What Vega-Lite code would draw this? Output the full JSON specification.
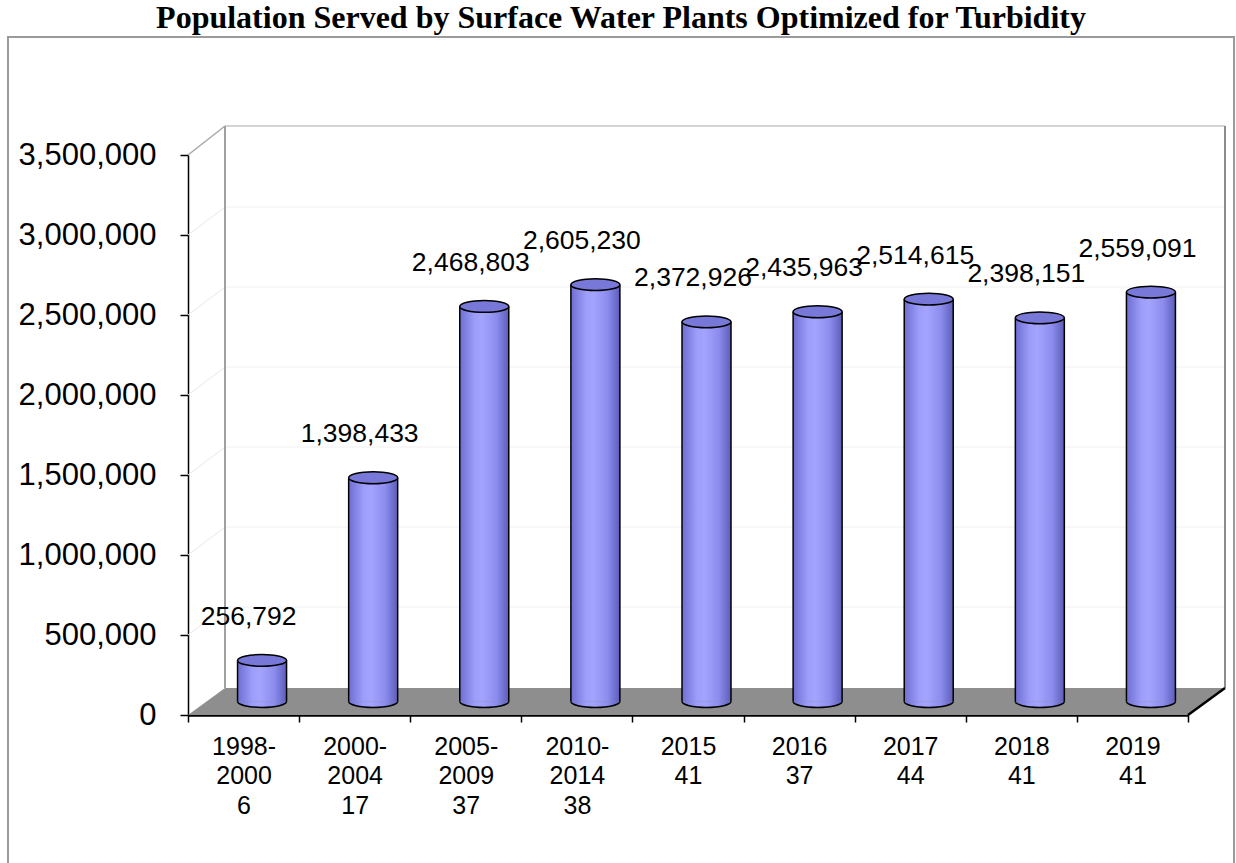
{
  "$schema": "https://vega.github.io/schema/vega-lite/v6.json",
  "autosize": {"type": "none"},
  "padding": {"left": 8, "top": 37, "right": 2, "bottom": 0},
  "width": 1226,
  "height": 830,
  "background": "white",
  "config": {
    "view": {"stroke": "#9a9a9a", "strokeWidth": 2},
    "axis": {"grid": false},
    "axisY": {"titleOpacity": 0}
  },
  "title": {
    "text": "Population Served by Surface Water Plants Optimized for Turbidity",
    "font": "Liberation Serif",
    "fontSize": 32,
    "fontWeight": "bold",
    "color": "black",
    "anchor": "middle",
    "frame": "group",
    "baseline": "alphabetic",
    "offset": -23
  },
  "datasets": {
    "plants": [
      {"label": "1998-|2000|6", "period": "1998-2000", "plants": 6, "population": 256792},
      {"label": "2000-|2004|17", "period": "2000-2004", "plants": 17, "population": 1398433},
      {"label": "2005-|2009|37", "period": "2005-2009", "plants": 37, "population": 2468803},
      {"label": "2010-|2014|38", "period": "2010-2014", "plants": 38, "population": 2605230},
      {"label": "2015|41", "period": "2015", "plants": 41, "population": 2372926},
      {"label": "2016|37", "period": "2016", "plants": 37, "population": 2435963},
      {"label": "2017|44", "period": "2017", "plants": 44, "population": 2514615},
      {"label": "2018|41", "period": "2018", "plants": 41, "population": 2398151},
      {"label": "2019|41", "period": "2019", "plants": 41, "population": 2559091}
    ],
    "grid": [
      {"v": 500000}, {"v": 1000000}, {"v": 1500000}, {"v": 2000000}, {"v": 2500000}, {"v": 3000000}
    ]
  },
  "resolve": {"scale": {"x": "independent"}},
  "layer": [
    {
      "layer": [
        {
          "data": {"name": "grid"},
          "mark": {"type": "rule", "color": "#f0f0f0", "strokeWidth": 1, "xOffset": 37, "x2Offset": 37, "yOffset": -28},
          "encoding": {
            "x": {"datum": 0, "type": "quantitative", "scale": {"domain": [0, 9], "range": [180, 1180], "nice": false, "zero": false}, "axis": null},
            "x2": {"datum": 9},
            "y": {"field": "v", "type": "quantitative", "scale": {"domain": [0, 3500000], "range": [678, 118], "nice": false}}
          }
        },
        {
          "data": {"name": "grid"},
          "mark": {"type": "rule", "color": "#e8e8e8", "strokeWidth": 1, "x2Offset": 37, "y2Offset": -28},
          "encoding": {
            "x": {"datum": 0, "type": "quantitative", "axis": null},
            "x2": {"datum": 0},
            "y": {"field": "v", "type": "quantitative"},
            "y2": {"field": "v"}
          }
        },
        {
          "data": {"values": [{}]},
          "mark": {"type": "rule", "color": "#a8a8a8", "strokeWidth": 1.5, "x2Offset": 37, "y2Offset": -29},
          "encoding": {
            "x": {"datum": 0, "type": "quantitative", "axis": null},
            "x2": {"datum": 0},
            "y": {"datum": 3500000, "type": "quantitative"},
            "y2": {"datum": 3500000}
          }
        },
        {
          "data": {"values": [{}]},
          "mark": {"type": "rule", "color": "#c4c4c4", "strokeWidth": 1.5, "xOffset": 37, "x2Offset": 37, "yOffset": -29},
          "encoding": {
            "x": {"datum": 0, "type": "quantitative", "axis": null},
            "x2": {"datum": 9},
            "y": {"datum": 3500000, "type": "quantitative"}
          }
        },
        {
          "data": {"values": [{}]},
          "mark": {"type": "rule", "color": "#a0a0a0", "strokeWidth": 2, "xOffset": 37, "yOffset": -27, "y2Offset": -29},
          "encoding": {
            "x": {"datum": 0, "type": "quantitative", "axis": null},
            "y": {"datum": 0, "type": "quantitative"},
            "y2": {"datum": 3500000}
          }
        },
        {
          "data": {"values": [{}]},
          "mark": {"type": "rule", "color": "#8c8c8c", "strokeWidth": 2, "xOffset": 37, "yOffset": -27, "y2Offset": -29},
          "encoding": {
            "x": {"datum": 9, "type": "quantitative", "axis": null},
            "y": {"datum": 0, "type": "quantitative"},
            "y2": {"datum": 3500000}
          }
        },
        {
          "data": {"values": [{}]},
          "mark": {
            "type": "point",
            "shape": "M-1,0.026L0.9286,0.026L1,-0.026L-0.9286,-0.026Z",
            "size": 1075369,
            "filled": true,
            "fill": "#8e8e8e",
            "fillOpacity": 1,
            "strokeWidth": 0,
            "opacity": 1,
            "xOffset": 18.5,
            "yOffset": -13.5
          },
          "encoding": {
            "x": {"datum": 4.5, "type": "quantitative", "axis": null},
            "y": {"datum": 0, "type": "quantitative"}
          }
        },
        {
          "data": {"values": [{}]},
          "mark": {"type": "rule", "color": "black", "strokeWidth": 2.5, "x2Offset": 37, "y2Offset": -27},
          "encoding": {
            "x": {"datum": 9, "type": "quantitative", "axis": null},
            "x2": {"datum": 9},
            "y": {"datum": 0, "type": "quantitative"},
            "y2": {"datum": 0}
          }
        }
      ]
    },
    {
      "data": {"name": "plants"},
      "encoding": {
        "x": {
          "field": "label",
          "type": "nominal",
          "sort": null,
          "scale": {"type": "band", "range": [180, 1180], "paddingInner": 0, "paddingOuter": 0},
          "axis": {
            "title": null,
            "labelExpr": "isValid(datum.value) ? split(datum.value, '|') : ''",
            "offset": -152,
            "tickBand": "extent",
            "domainColor": "black",
            "domainWidth": 2.5,
            "tickColor": "black",
            "tickWidth": 1.5,
            "tickSize": 7,
            "labelFont": "Liberation Sans",
            "labelFontSize": 25,
            "labelLineHeight": 29.5,
            "labelPadding": 12,
            "labelAngle": 0,
            "labelColor": "black",
            "labelOverlap": false,
            "grid": false
          }
        }
      },
      "layer": [
        {
          "mark": {
            "type": "bar",
            "width": 49,
            "xOffset": 18.5,
            "yOffset": -13.5,
            "y2Offset": -13.5,
            "strokeWidth": 0,
            "fill": {
              "gradient": "linear", "x1": 0, "y1": 0, "x2": 1, "y2": 0,
              "stops": [
                {"offset": 0, "color": "#6e6ed2"},
                {"offset": 0.3, "color": "#9c9cfa"},
                {"offset": 0.45, "color": "#a4a4ff"},
                {"offset": 0.75, "color": "#8c8cee"},
                {"offset": 1, "color": "#5c5cb8"}
              ]
            }
          },
          "encoding": {
            "y": {
              "field": "population",
              "type": "quantitative",
              "scale": {"domain": [0, 3500000], "range": [678, 118], "nice": false},
              "axis": {
                "title": null,
                "values": [0, 500000, 1000000, 1500000, 2000000, 2500000, 3000000, 3500000],
                "format": ",d",
                "offset": -180,
                "domainColor": "black",
                "domainWidth": 1.5,
                "tickColor": "black",
                "tickWidth": 1.5,
                "tickSize": 8,
                "labelFont": "Liberation Sans",
                "labelFontSize": 31,
                "labelPadding": 24,
                "labelColor": "black",
                "labelOverlap": false,
                "grid": false
              }
            },
            "y2": {"datum": 0}
          }
        },
        {
          "mark": {
            "type": "point",
            "shape": "M-1,0C-1,0.1325,-0.5523,0.24,0,0.24C0.5523,0.24,1,0.1325,1,0",
            "size": 2401,
            "filled": true,
            "opacity": 1,
            "fillOpacity": 1,
            "strokeOpacity": 1,
            "stroke": "black",
            "strokeWidth": 1.5,
            "xOffset": 18.5,
            "yOffset": -13.5,
            "fill": {
              "gradient": "linear", "x1": 0, "y1": 0, "x2": 1, "y2": 0,
              "stops": [
                {"offset": 0, "color": "#6e6ed2"},
                {"offset": 0.3, "color": "#9c9cfa"},
                {"offset": 0.45, "color": "#a4a4ff"},
                {"offset": 0.75, "color": "#8c8cee"},
                {"offset": 1, "color": "#5c5cb8"}
              ]
            }
          },
          "encoding": {
            "y": {"datum": 0, "type": "quantitative"}
          }
        },
        {
          "mark": {"type": "rule", "color": "black", "strokeWidth": 1.5, "xOffset": -6, "yOffset": -13.5, "y2Offset": -13.5},
          "encoding": {
            "y": {"field": "population", "type": "quantitative"},
            "y2": {"datum": 0}
          }
        },
        {
          "mark": {"type": "rule", "color": "black", "strokeWidth": 1.5, "xOffset": 43, "yOffset": -13.5, "y2Offset": -13.5},
          "encoding": {
            "y": {"field": "population", "type": "quantitative"},
            "y2": {"datum": 0}
          }
        },
        {
          "mark": {
            "type": "point",
            "shape": "M-1,0C-1,-0.1325,-0.5523,-0.24,0,-0.24C0.5523,-0.24,1,-0.1325,1,0C1,0.1325,0.5523,0.24,0,0.24C-0.5523,0.24,-1,0.1325,-1,0Z",
            "size": 2401,
            "filled": true,
            "opacity": 1,
            "fillOpacity": 1,
            "strokeOpacity": 1,
            "fill": "#7878d8",
            "stroke": "black",
            "strokeWidth": 1.5,
            "xOffset": 18.5,
            "yOffset": -13.5
          },
          "encoding": {
            "y": {"field": "population", "type": "quantitative"}
          }
        },
        {
          "mark": {
            "type": "text",
            "font": "Liberation Sans",
            "fontSize": 26.5,
            "color": "black",
            "baseline": "middle",
            "align": "center",
            "dx": 5,
            "dy": -57
          },
          "encoding": {
            "y": {"field": "population", "type": "quantitative"},
            "text": {"field": "population", "type": "quantitative", "format": ",d"}
          }
        }
      ]
    }
  ]
}
